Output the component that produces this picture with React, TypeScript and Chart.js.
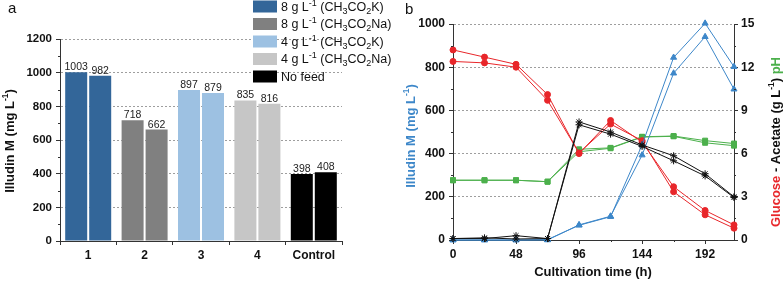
import React, { useEffect, useRef } from 'react';
import { Chart, registerables } from 'chart.js';
Chart.register(...registerables);

const FONT = '"Liberation Sans", Arial, sans-serif';
Chart.defaults.font.family = FONT;

// ---------- Panel a data ----------
const categories = ['1', '2', '3', '4', 'Control'];
const rep1 = [1003, 718, 897, 835, 398];
const rep2 = [982, 662, 879, 816, 408];
const barColors = ['#336699', '#808080', '#9dc1e2', '#c6c6c6', '#000000'];
type Seg = { t: string; k?: 'sup' | 'sub'; c?: string };
const legendLabels: Seg[][] = [
  [{ t: '8 g L' }, { t: '-1', k: 'sup' }, { t: ' (CH' }, { t: '3', k: 'sub' }, { t: 'CO' }, { t: '2', k: 'sub' }, { t: 'K)' }],
  [{ t: '8 g L' }, { t: '-1', k: 'sup' }, { t: ' (CH' }, { t: '3', k: 'sub' }, { t: 'CO' }, { t: '2', k: 'sub' }, { t: 'Na)' }],
  [{ t: '4 g L' }, { t: '-1', k: 'sup' }, { t: ' (CH' }, { t: '3', k: 'sub' }, { t: 'CO' }, { t: '2', k: 'sub' }, { t: 'K)' }],
  [{ t: '4 g L' }, { t: '-1', k: 'sup' }, { t: ' (CH' }, { t: '3', k: 'sub' }, { t: 'CO' }, { t: '2', k: 'sub' }, { t: 'Na)' }],
  [{ t: 'No feed' }],
];

// ---------- Panel b data ----------
const times = [0, 24, 48, 72, 96, 120, 144, 168, 192, 214];
const illudinA = [0, 0, 0, 2, 68, 108, 440, 845, 1003, 802];
const illudinB = [0, 0, 0, 0, 70, 110, 393, 772, 941, 698];
const glucoseA = [13.2, 12.7, 12.2, 10.1, 6.0, 8.3, 6.8, 3.7, 2.05, 1.05];
const glucoseB = [12.4, 12.3, 12.0, 9.7, 6.05, 8.05, 6.9, 3.35, 1.75, 0.82];
const acetateA = [0.1, 0.1, 0.3, 0.1, 8.2, 7.5, 6.6, 5.85, 4.6, 3.0];
const acetateB = [0.1, 0.15, 0.07, 0.1, 8.0, 7.35, 6.5, 5.5, 4.45, 2.95];
const phA = [4.15, 4.15, 4.15, 4.05, 6.3, 6.4, 7.17, 7.22, 6.9, 6.7];
const phB = [4.15, 4.15, 4.15, 4.05, 6.13, 6.37, 7.15, 7.2, 6.75, 6.55];

const BLUE = '#3d87c9';
const RED = '#e8262a';
const GREEN = '#4cb04c';
const AXIS = '#333333';
const GRID = 'rgba(0,0,0,0.38)';

function drawRich(ctx: CanvasRenderingContext2D, segs: Seg[], x: number, y: number, size: number, bold: boolean, color: string, align: 'left' | 'center', small = 0.65) {
  const fontFor = (s: Seg) => `${bold ? 'bold ' : ''}${s.k ? size * small : size}px ${FONT}`;
  let total = 0;
  for (const s of segs) { ctx.font = fontFor(s); total += ctx.measureText(s.t).width; }
  let cx = align === 'center' ? x - total / 2 : x;
  const base = y + size * 0.35;
  ctx.textAlign = 'left';
  ctx.textBaseline = 'alphabetic';
  for (const s of segs) {
    ctx.font = fontFor(s);
    ctx.fillStyle = s.c || color;
    const dy = s.k === 'sup' ? -size * 0.4 : s.k === 'sub' ? size * 0.22 : 0;
    ctx.fillText(s.t, cx, base + dy);
    cx += ctx.measureText(s.t).width;
  }
}

function drawRotated(ctx: CanvasRenderingContext2D, segs: Seg[], cx: number, cy: number, size: number, color: string) {
  ctx.save();
  ctx.translate(cx, cy);
  ctx.rotate(-Math.PI / 2);
  drawRich(ctx, segs, 0, 0, size, true, color, 'center');
  ctx.restore();
}

const pluginA = {
  id: 'annotA',
  afterDraw(chart: any) {
    const ctx: CanvasRenderingContext2D = chart.ctx;
    ctx.save();
    // value labels
    ctx.font = `10.5px ${FONT}`;
    ctx.fillStyle = '#222';
    ctx.textAlign = 'center';
    ctx.textBaseline = 'alphabetic';
    chart.data.datasets.forEach((ds: any, i: number) => {
      const meta = chart.getDatasetMeta(i);
      meta.data.forEach((el: any, j: number) => {
        ctx.fillText(String(ds.data[j]), el.x, el.y - 2);
      });
    });
    // minor ticks on y
    const y = chart.scales.y;
    ctx.strokeStyle = AXIS;
    ctx.lineWidth = 1;
    for (let v = 100; v < 1200; v += 200) {
      const py = Math.round(y.getPixelForValue(v)) + 0.5;
      ctx.beginPath();
      ctx.moveTo(y.right - 2, py);
      ctx.lineTo(y.right, py);
      ctx.stroke();
    }
    // legend
    legendLabels.forEach((segs, i) => {
      const cy = 6.5 + i * 17.5;
      ctx.fillStyle = barColors[i];
      ctx.fillRect(253, cy - 6, 24, 12);
      drawRich(ctx, segs, 281, cy, 12.5, false, '#111', 'left', 0.72);
    });
    // axis title
    drawRotated(ctx, [{ t: 'Illudin M (mg L' }, { t: '-1', k: 'sup' }, { t: ')' }], 9, 141, 13, '#111');
    // panel letter
    ctx.font = `15px ${FONT}`;
    ctx.fillStyle = '#111';
    ctx.textAlign = 'left';
    ctx.textBaseline = 'middle';
    ctx.fillText('a', 8, 9);
    ctx.restore();
  },
};

const pluginB = {
  id: 'annotB',
  afterDraw(chart: any) {
    const ctx: CanvasRenderingContext2D = chart.ctx;
    ctx.save();
    const { x, y, y1 } = chart.scales;
    ctx.strokeStyle = AXIS;
    ctx.lineWidth = 1;
    for (let v = 100; v < 1000; v += 200) {
      const py = Math.round(y.getPixelForValue(v)) + 0.5;
      ctx.beginPath(); ctx.moveTo(y.right - 2, py); ctx.lineTo(y.right, py); ctx.stroke();
    }
    for (let v = 1.5; v < 15; v += 3) {
      const py = Math.round(y1.getPixelForValue(v)) + 0.5;
      ctx.beginPath(); ctx.moveTo(y1.left, py); ctx.lineTo(y1.left + 2, py); ctx.stroke();
    }
    for (let v = 24; v < 214; v += 48) {
      const px = Math.round(x.getPixelForValue(v)) + 0.5;
      ctx.beginPath(); ctx.moveTo(px, x.top); ctx.lineTo(px, x.top + 2); ctx.stroke();
    }
    // titles
    drawRotated(ctx, [{ t: 'Illudin M (mg L' }, { t: '-1', k: 'sup' }, { t: ')' }], 15, 136, 13, BLUE);
    drawRotated(ctx, [
      { t: 'Glucose', c: RED }, { t: ' - Acetate (g L', c: '#111' }, { t: '-1', k: 'sup', c: '#111' }, { t: ') ', c: '#111' }, { t: 'pH', c: GREEN },
    ], 380, 142, 13, '#111');
    drawRich(ctx, [{ t: 'Cultivation time (h)' }], 198, 271, 13, true, '#111', 'center');
    ctx.font = `15px ${FONT}`;
    ctx.fillStyle = '#111';
    ctx.textAlign = 'left';
    ctx.textBaseline = 'middle';
    ctx.fillText('b', 10, 10);
    ctx.restore();
  },
};

const tickFont = { size: 12, weight: 'bold' as const };
const plain = (v: any) => String(v);

function lineDs(data: number[], color: string, style: string, radius: number, axis: string) {
  return {
    data: times.map((t, i) => ({ x: t, y: data[i] })),
    borderColor: color,
    backgroundColor: color,
    borderWidth: 1,
    pointStyle: style,
    pointRadius: radius,
    pointBorderWidth: 1,
    pointBorderColor: color,
    pointBackgroundColor: color,
    yAxisID: axis,
    tension: 0,
    clip: false,
  };
}

export default function App() {
  const refA = useRef<HTMLCanvasElement>(null);
  const refB = useRef<HTMLCanvasElement>(null);
  useEffect(() => {
    const a = new Chart(refA.current!, {
      type: 'bar',
      data: {
        labels: categories,
        datasets: [
          { label: 'Replicate 1', data: rep1, backgroundColor: barColors },
          { label: 'Replicate 2', data: rep2, backgroundColor: barColors },
        ],
      },
      options: {
        animation: false,
        responsive: false,
        layout: { padding: { top: 39, right: 53, left: 0, bottom: 0 } },
        plugins: { legend: { display: false }, tooltip: { enabled: false } },
        datasets: { bar: { categoryPercentage: 0.851, barPercentage: 0.917 } },
        scales: {
          x: {
            grid: { offset: true, drawOnChartArea: false, tickLength: 4, color: AXIS },
            border: { color: AXIS, width: 1 },
            ticks: { font: tickFont, color: '#111', padding: 3 },
            afterFit: (s: any) => { s.height = 40; },
          },
          y: {
            min: 0, max: 1200,
            ticks: { stepSize: 200, font: { size: 11.5, weight: 'bold' }, color: '#111', padding: 4, callback: plain },
            grid: { color: GRID, tickColor: AXIS, tickLength: 4 },
            border: { dash: [2, 2], color: AXIS, width: 1 },
            afterFit: (s: any) => { s.width = 60; },
          },
        },
      } as any,
      plugins: [pluginA],
    });
    const b = new Chart(refB.current!, {
      type: 'line',
      data: {
        datasets: [
          lineDs(acetateA, '#111111', 'star', 3.5, 'y1'),
          lineDs(acetateB, '#111111', 'star', 3.5, 'y1'),
          lineDs(illudinA, BLUE, 'triangle', 3.5, 'y'),
          lineDs(illudinB, BLUE, 'triangle', 3.5, 'y'),
          lineDs(glucoseA, RED, 'circle', 3, 'y1'),
          lineDs(glucoseB, RED, 'circle', 3, 'y1'),
          lineDs(phA, GREEN, 'rect', 3.5, 'y1'),
          lineDs(phB, GREEN, 'rect', 3.5, 'y1'),
        ] as any,
      },
      options: {
        animation: false,
        responsive: false,
        layout: { padding: { top: 24, right: 0, left: 0, bottom: 0 } },
        plugins: { legend: { display: false }, tooltip: { enabled: false } },
        scales: {
          x: {
            type: 'linear', min: 0, max: 214,
            ticks: { stepSize: 48, includeBounds: false, font: tickFont, color: '#111', padding: 3, callback: plain },
            grid: { drawOnChartArea: false, tickLength: 4, color: AXIS },
            border: { color: AXIS },
            afterFit: (s: any) => { s.height = 41; },
          },
          y: {
            position: 'left', min: 0, max: 1000,
            ticks: { stepSize: 200, font: tickFont, color: '#111', padding: 4, callback: plain },
            grid: { color: GRID, tickColor: AXIS, tickLength: 4 },
            border: { dash: [2, 2], color: AXIS },
            afterFit: (s: any) => { s.width = 58; },
          },
          y1: {
            position: 'right', min: 0, max: 15,
            ticks: { stepSize: 3, font: tickFont, color: '#111', padding: 3, callback: plain },
            grid: { drawOnChartArea: false, tickLength: 4, color: AXIS },
            border: { color: AXIS },
            afterFit: (s: any) => { s.width = 50; },
          },
        },
      } as any,
      plugins: [pluginB],
    });
    return () => { a.destroy(); b.destroy(); };
  }, []);
  return (
    <div style={{ position: 'absolute', left: 0, top: 0, width: 784, height: 281, background: '#fff', overflow: 'hidden' }}>
      <canvas ref={refA} width={395} height={281} style={{ position: 'absolute', left: 0, top: 0 }} />
      <canvas ref={refB} width={389} height={281} style={{ position: 'absolute', left: 395, top: 0 }} />
    </div>
  );
}
